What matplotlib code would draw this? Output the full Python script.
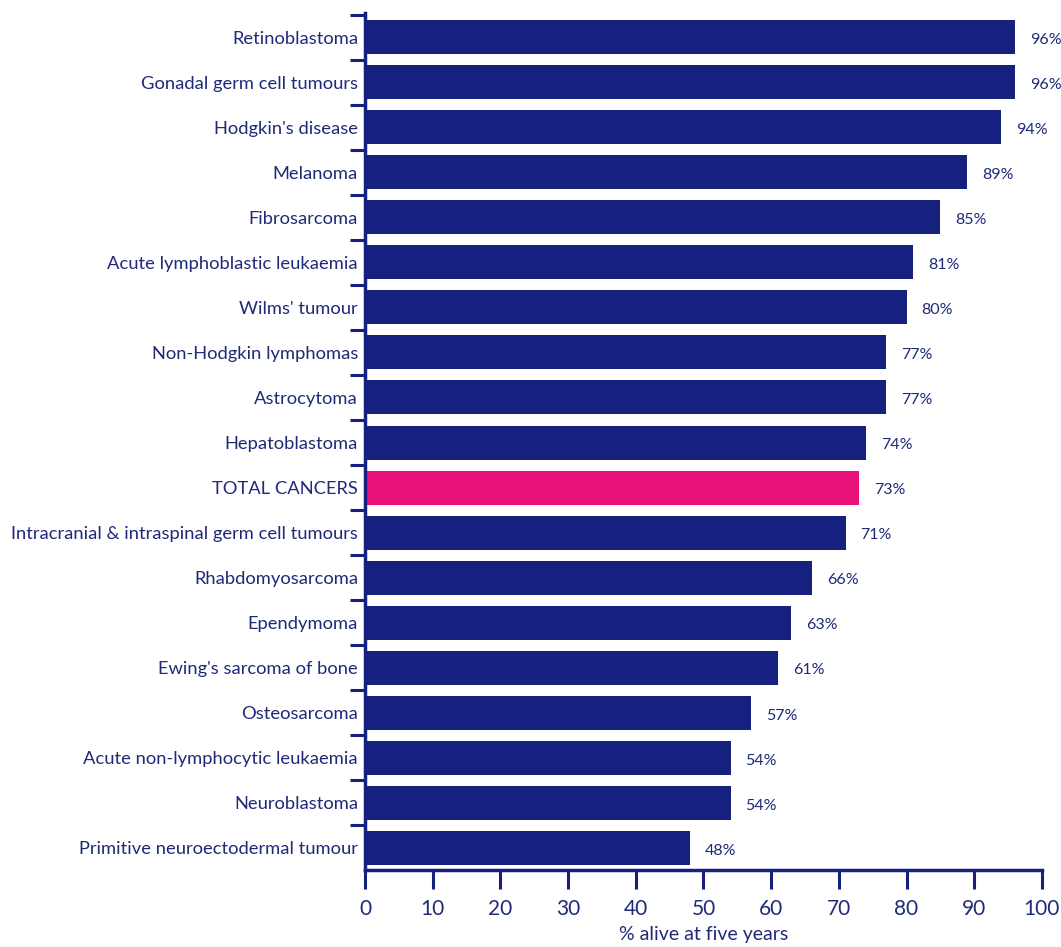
import matplotlib.pyplot as plt
import numpy as np

plt.rcParams['font.family'] = ['Lato', 'DejaVu Sans']

categories = [
    "Retinoblastoma",
    "Gonadal germ cell tumours",
    "Hodgkin's disease",
    "Melanoma",
    "Fibrosarcoma",
    "Acute lymphoblastic leukaemia",
    "Wilms' tumour",
    "Non-Hodgkin lymphomas",
    "Astrocytoma",
    "Hepatoblastoma",
    "TOTAL CANCERS",
    "Intracranial & intraspinal germ cell tumours",
    "Rhabdomyosarcoma",
    "Ependymoma",
    "Ewing's sarcoma of bone",
    "Osteosarcoma",
    "Acute non-lymphocytic leukaemia",
    "Neuroblastoma",
    "Primitive neuroectodermal tumour",
]
survival = [96, 96, 94, 89, 85, 81, 80, 77, 77, 74, 73, 71, 66, 63, 61, 57, 54, 54, 48]
highlight = "TOTAL CANCERS"
x_ticks = list(range(0, 101, 10))

navy = "#16217f"
pink = "#e8127a"
text_col = "#1f2a78"

fig = plt.figure(figsize=(10.61, 9.47), dpi=100)
ax = fig.add_axes([0.344, 0.0813, 0.638, 0.9047])

y = np.arange(len(categories))
colors = [pink if c == highlight else navy for c in categories]
ax.barh(y, survival, height=0.755, color=colors)

for yi, v in zip(y, survival):
    ax.text(v + 2.2, yi + 0.06, f"{v}%", va="center", ha="left",
            fontsize=11.5, color=text_col)

ax.set_xlim(0, 100)
ax.set_ylim(len(categories) - 1 + 0.49, -0.53)

# labels on the bars, tick marks between bars
ax.set_yticks(y)
ax.set_yticklabels(categories, fontsize=13.2, color=text_col)
ax.set_yticks(y - 0.5, minor=True)
ax.tick_params(axis="y", which="major", length=0, pad=5)
ax.tick_params(axis="y", which="minor", length=11, width=2.2, color=navy, direction="out")

ax.set_xticks(x_ticks)
ax.set_xticklabels([str(t) for t in x_ticks], fontsize=15, color=text_col)
ax.tick_params(axis="x", length=14, width=2.2, color=navy, direction="out", pad=7)
ax.set_xlabel("% alive at five years", fontsize=14, color=text_col, labelpad=5)

for side in ["top", "right"]:
    ax.spines[side].set_visible(False)
for side in ["left", "bottom"]:
    ax.spines[side].set_color(navy)
    ax.spines[side].set_linewidth(2.5)

fig.savefig("out.png", dpi=100)
